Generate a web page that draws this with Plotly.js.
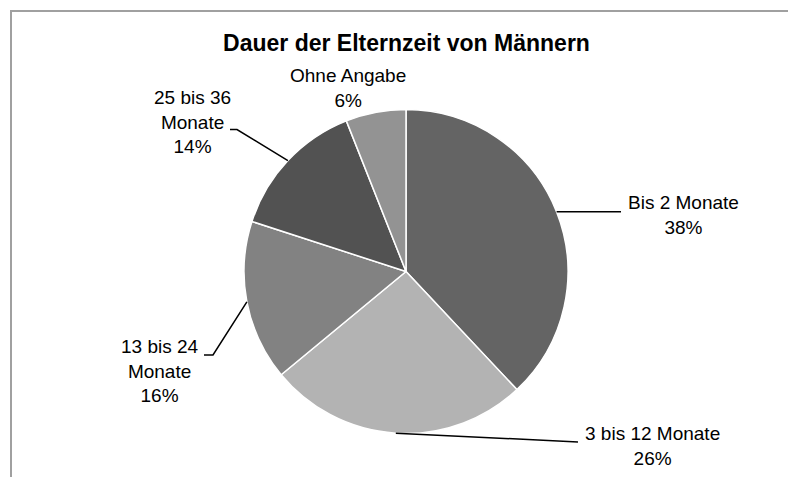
<!DOCTYPE html>
<html>
<head>
<meta charset="utf-8">
<script src="https://cdn.plot.ly/plotly-3.0.1.min.js"></script>
<style>html,body{margin:0;padding:0;background:#fff;}#chart{width:788px;height:477px;}</style>
</head>
<body>
<div id="chart"></div>
<script>
// ---- data ----
const categories = ["Bis 2 Monate", "3 bis 12 Monate", "13 bis 24 Monate", "25 bis 36 Monate", "Ohne Angabe"];
const labelLines = ["Bis 2 Monate", "3 bis 12 Monate", "13 bis 24<br>Monate", "25 bis 36<br>Monate", "Ohne Angabe"];
const shares = [38, 26, 16, 14, 6];
const sliceColors = ["#646464", "#b3b3b3", "#828282", "#525252", "#939393"];
const chartTitle = "Dauer der Elternzeit von Männern";

// ---- geometry (pixels) ----
const W = 788, H = 477;
const cx = 406, cy = 271.5, R = 162;
const px = x => x / W;
const py = y => 1 - y / H;

// label placement: text block centre and leader path (elbow/end points), pixels
const placement = [
  {tx: 683, ty: 215, path: [[621, null]]},
  {tx: 652, ty: 446, path: [[578, 442]]},
  {tx: 160, ty: 371, path: [[213, 355], [204, 355]]},
  {tx: 192.5, ty: 121.5, path: [[237, 129.5], [230, 129.5]]},
  {tx: 348, ty: 88, path: null}
];

const total = shares.reduce((a, b) => a + b, 0);
const annotations = [];
const shapes = [];
let cum = 0;
shares.forEach((v, i) => {
  const mid = (cum + v / 2) / total;
  cum += v;
  const ang = mid * 2 * Math.PI;
  const sx = cx + R * Math.sin(ang);
  const sy = cy - R * Math.cos(ang);
  const p = placement[i];
  annotations.push({
    xref: 'paper', yref: 'paper', x: px(p.tx), y: py(p.ty),
    xanchor: 'center', yanchor: 'middle', showarrow: false,
    text: labelLines[i] + '<br>' + v + '%',
    font: {family: 'Liberation Sans, Arial, sans-serif', size: 19, color: '#000'},
    align: 'center'
  });
  if (p.path) {
    let d = 'M' + px(sx) + ',' + py(sy);
    p.path.forEach(pt => {
      const yy = pt[1] === null ? sy : pt[1];
      d += ' L' + px(pt[0]) + ',' + py(yy);
    });
    shapes.push({type: 'path', xref: 'paper', yref: 'paper', path: d,
      line: {color: '#000', width: 1.5}});
  }
});

// chart frame
shapes.push({type: 'rect', xref: 'paper', yref: 'paper',
  x0: px(11), x1: px(820), y0: py(11), y1: py(520),
  line: {color: '#a0a0a0', width: 2}, fillcolor: 'rgba(0,0,0,0)', layer: 'below'});

const trace = {
  type: 'pie',
  labels: categories,
  values: shares,
  sort: false,
  direction: 'clockwise',
  rotation: 0,
  textinfo: 'none',
  hoverinfo: 'none',
  showlegend: false,
  marker: {colors: sliceColors, line: {color: '#ffffff', width: 1.5}},
  domain: {x: [px(cx - R), px(cx + R)], y: [py(cy + R), py(cy - R)]}
};

const layout = {
  width: W, height: H,
  margin: {l: 0, r: 0, t: 0, b: 0},
  paper_bgcolor: '#fff',
  title: {
    text: '<b>' + chartTitle + '</b>',
    x: px(406.5), xanchor: 'center', xref: 'paper',
    y: py(43), yanchor: 'middle', yref: 'container',
    font: {family: 'Liberation Sans, Arial, sans-serif', size: 23, color: '#000'}
  },
  annotations: annotations,
  shapes: shapes
};

Plotly.newPlot('chart', [trace], layout, {staticPlot: true, displayModeBar: false});
</script>
</body>
</html>
